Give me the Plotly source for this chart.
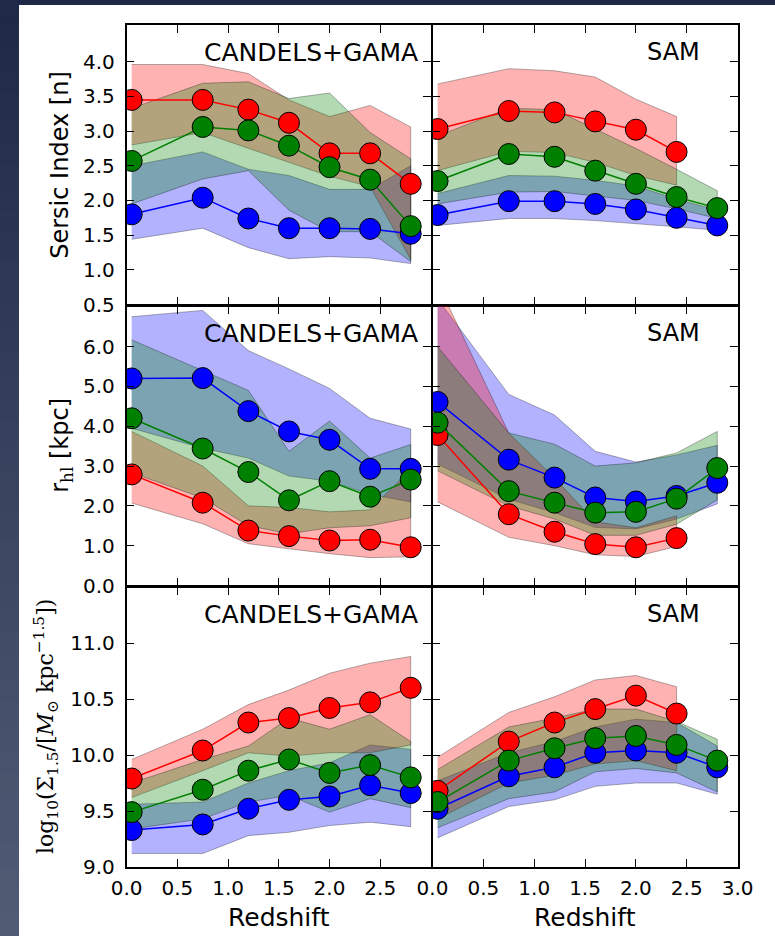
import plotly.graph_objects as go

W, H = 775, 936

# ---------------- data ----------------
z = [0.05, 0.75, 1.2, 1.6, 2.0, 2.4, 2.8]
z_sam_red = [0.05, 0.75, 1.2, 1.6, 2.0, 2.4]

# Sersic index - CANDELS+GAMA
n_obs_red = [3.45, 3.45, 3.31, 3.12, 2.68, 2.68, 2.24]
n_obs_red_hi = [3.96, 3.96, 3.83, 3.45, 3.21, 3.37, 3.06]
n_obs_red_lo = [2.80, 2.98, 2.75, 2.55, 2.35, 2.20, 1.15]
n_obs_green = [2.57, 3.06, 3.01, 2.79, 2.48, 2.30, 1.63]
n_obs_green_hi = [3.33, 3.69, 3.71, 3.47, 3.55, 2.98, 2.60]
n_obs_green_lo = [1.95, 2.31, 2.43, 1.86, 1.55, 1.55, 1.12]
n_obs_blue = [1.80, 2.04, 1.74, 1.60, 1.60, 1.59, 1.52]
n_obs_blue_hi = [2.50, 2.70, 2.45, 2.36, 2.16, 2.16, 2.50]
n_obs_blue_lo = [1.44, 1.60, 1.32, 1.16, 1.19, 1.17, 1.09]

# Sersic index - SAM
n_sam_red = [3.03, 3.29, 3.27, 3.14, 3.02, 2.70]
n_sam_red_hi = [3.68, 3.90, 3.87, 3.78, 3.46, 3.21]
n_sam_red_lo = [2.43, 2.71, 2.69, 2.55, 2.36, 2.22]
n_sam_green = [2.28, 2.67, 2.63, 2.43, 2.24, 2.05, 1.89]
n_sam_green_hi = [2.93, 3.33, 3.31, 3.03, 2.75, 2.45, 2.14]
n_sam_green_lo = [1.95, 2.12, 2.13, 2.07, 2.00, 1.88, 1.74]
n_sam_blue = [1.79, 1.99, 1.99, 1.95, 1.87, 1.75, 1.64]
n_sam_blue_hi = [2.10, 2.36, 2.35, 2.29, 2.21, 2.02, 1.86]
n_sam_blue_lo = [1.64, 1.74, 1.74, 1.71, 1.67, 1.62, 1.57]

# Half-light radius - CANDELS+GAMA
r_obs_red = [2.79, 2.08, 1.38, 1.24, 1.13, 1.15, 0.96]
r_obs_red_hi = [3.87, 3.00, 2.00, 1.96, 1.85, 1.90, 2.91]
r_obs_red_lo = [2.07, 1.55, 1.05, 0.92, 0.80, 0.70, 0.72]
r_obs_green = [4.20, 3.44, 2.85, 2.14, 2.62, 2.23, 2.66]
r_obs_green_hi = [6.17, 5.40, 4.90, 3.37, 4.13, 3.20, 3.54]
r_obs_green_lo = [2.83, 2.20, 1.50, 1.30, 1.45, 1.50, 1.70]
r_obs_blue = [5.20, 5.21, 4.38, 3.87, 3.66, 2.93, 2.93]
r_obs_blue_hi = [6.75, 6.91, 5.90, 5.44, 4.95, 4.20, 3.93]
r_obs_blue_lo = [3.95, 3.45, 3.20, 2.75, 2.62, 2.29, 2.10]

# Half-light radius - SAM
r_sam_red = [3.78, 1.79, 1.35, 1.04, 0.96, 1.19]
r_sam_red_hi = [7.60, 3.83, 2.70, 1.60, 1.45, 1.75]
r_sam_red_lo = [2.10, 1.21, 1.00, 0.77, 0.73, 0.98]
r_sam_green = [4.09, 2.37, 2.08, 1.83, 1.85, 2.18, 2.95]
r_sam_green_hi = [6.00, 3.83, 3.55, 3.00, 3.08, 3.33, 3.87]
r_sam_green_lo = [2.88, 2.00, 1.67, 1.26, 1.26, 1.54, 2.15]
r_sam_blue = [4.61, 3.16, 2.71, 2.21, 2.11, 2.25, 2.58]
r_sam_blue_hi = [7.20, 4.80, 4.28, 3.37, 3.10, 3.28, 3.52]
r_sam_blue_lo = [3.05, 2.17, 1.83, 1.46, 1.42, 1.67, 2.05]

# Sigma_1.5 - CANDELS+GAMA
s_obs_red = [9.79, 10.04, 10.29, 10.33, 10.42, 10.47, 10.60]
s_obs_red_hi = [9.96, 10.23, 10.45, 10.58, 10.73, 10.82, 10.88]
s_obs_red_lo = [9.62, 9.86, 10.02, 9.99, 10.02, 10.02, 10.09]
s_obs_green = [9.49, 9.69, 9.86, 9.96, 9.84, 9.91, 9.80]
s_obs_green_hi = [9.75, 9.96, 10.08, 10.33, 10.23, 10.36, 10.12]
s_obs_green_lo = [9.34, 9.43, 9.58, 9.64, 9.49, 9.61, 9.53]
s_obs_blue = [9.33, 9.38, 9.52, 9.60, 9.63, 9.73, 9.66]
s_obs_blue_hi = [9.56, 9.58, 9.75, 9.86, 9.93, 10.09, 10.05]
s_obs_blue_lo = [9.12, 9.12, 9.28, 9.31, 9.37, 9.40, 9.36]

# Sigma_1.5 - SAM
s_sam_red = [9.68, 10.12, 10.29, 10.41, 10.53, 10.37]
s_sam_red_hi = [9.98, 10.38, 10.52, 10.67, 10.71, 10.61]
s_sam_red_lo = [9.43, 9.75, 9.82, 9.92, 9.95, 9.86]
s_sam_green = [9.58, 9.95, 10.06, 10.15, 10.17, 10.09, 9.95]
s_sam_green_hi = [9.87, 10.25, 10.33, 10.41, 10.41, 10.30, 10.14]
s_sam_green_lo = [9.35, 9.61, 9.67, 9.85, 9.88, 9.84, 9.67]
s_sam_blue = [9.52, 9.81, 9.89, 10.02, 10.04, 10.02, 9.89]
s_sam_blue_hi = [9.77, 10.02, 10.12, 10.25, 10.32, 10.29, 10.08]
s_sam_blue_lo = [9.26, 9.54, 9.60, 9.72, 9.75, 9.75, 9.65]

x_ticks_left = [0.0, 0.5, 1.0, 1.5, 2.0, 2.5]
x_ticks_right = [0.0, 0.5, 1.0, 1.5, 2.0, 2.5, 3.0]
y_ticks_n = [0.5, 1.0, 1.5, 2.0, 2.5, 3.0, 3.5, 4.0]
y_ticks_r = [0.0, 1.0, 2.0, 3.0, 4.0, 5.0, 6.0]
y_ticks_s = [9.0, 9.5, 10.0, 10.5, 11.0]

panel_titles = ["CANDELS+GAMA", "SAM"]
x_title = "Redshift"
y_titles = [
    "Sersic Index [n]",
    "r<sub><span style=\"font-family:'DejaVu Serif'\">hl</span></sub> [kpc]",
    "log<sub>10</sub>(Σ<sub>1.5</sub>/[<i>M</i><sub>⊙</sub> kpc<sup>−1.5</sup>])",
]

# ---------------- layout geometry (pixels) ----------------
LW = 1.5
col_px = [(126.6, 431.0), (431.0 + LW, 737.6)]
row_px = [(25, 304.5), (304.5 + LW, 585.5), (585.5 + LW, 867)]
y_ranges = [[0.5, 4.53], [0.0, 7.02], [9.0, 11.5]]
y_ticks = [y_ticks_n, y_ticks_r, y_ticks_s]

COL = {"red": "#ff0000", "green": "#008000", "blue": "#0000ff"}
FILL = {"red": "rgba(255,0,0,0.3)", "green": "rgba(0,128,0,0.3)", "blue": "rgba(0,0,255,0.3)"}

panels = {
    (0, 0): {"blue": (z, n_obs_blue, n_obs_blue_hi, n_obs_blue_lo),
             "red": (z, n_obs_red, n_obs_red_hi, n_obs_red_lo),
             "green": (z, n_obs_green, n_obs_green_hi, n_obs_green_lo)},
    (0, 1): {"blue": (z, n_sam_blue, n_sam_blue_hi, n_sam_blue_lo),
             "red": (z_sam_red, n_sam_red, n_sam_red_hi, n_sam_red_lo),
             "green": (z, n_sam_green, n_sam_green_hi, n_sam_green_lo)},
    (1, 0): {"blue": (z, r_obs_blue, r_obs_blue_hi, r_obs_blue_lo),
             "red": (z, r_obs_red, r_obs_red_hi, r_obs_red_lo),
             "green": (z, r_obs_green, r_obs_green_hi, r_obs_green_lo)},
    (1, 1): {"blue": (z, r_sam_blue, r_sam_blue_hi, r_sam_blue_lo),
             "red": (z_sam_red, r_sam_red, r_sam_red_hi, r_sam_red_lo),
             "green": (z, r_sam_green, r_sam_green_hi, r_sam_green_lo)},
    (2, 0): {"blue": (z, s_obs_blue, s_obs_blue_hi, s_obs_blue_lo),
             "red": (z, s_obs_red, s_obs_red_hi, s_obs_red_lo),
             "green": (z, s_obs_green, s_obs_green_hi, s_obs_green_lo)},
    (2, 1): {"blue": (z, s_sam_blue, s_sam_blue_hi, s_sam_blue_lo),
             "red": (z_sam_red, s_sam_red, s_sam_red_hi, s_sam_red_lo),
             "green": (z, s_sam_green, s_sam_green_hi, s_sam_green_lo)},
}
order = ["blue", "red", "green"]

fig = go.Figure()
layout = {}
font_tick = dict(family="DejaVu Sans", size=20, color="black")

for (r, c), data in panels.items():
    idx = r * 2 + c + 1
    xs = "" if idx == 1 else str(idx)
    xref, yref = "x" + xs, "y" + xs
    for key in order:
        xx, med, hi, lo = data[key]
        fig.add_trace(go.Scatter(
            x=list(xx) + list(xx)[::-1], y=list(hi) + list(lo)[::-1],
            fill="toself", fillcolor=FILL[key], mode="lines",
            line=dict(color="rgba(0,0,0,0.3)", width=1),
            hoverinfo="skip", showlegend=False, xaxis=xref, yaxis=yref))
    for key in order:
        xx, med, hi, lo = data[key]
        fig.add_trace(go.Scatter(
            x=xx, y=med, mode="lines+markers",
            line=dict(color=COL[key], width=1.5),
            marker=dict(size=21, color=COL[key], line=dict(color="black", width=1)),
            showlegend=False, xaxis=xref, yaxis=yref))

    x0, x1 = col_px[c]
    y0, y1 = row_px[r]
    tv = x_ticks_left if c == 0 else x_ticks_right
    layout["xaxis" + xs] = dict(
        domain=[x0 / W, x1 / W], range=[0, 3], anchor=yref, automargin=False,
        tickvals=tv, ticktext=["%.1f" % v for v in tv],
        showticklabels=(r == 2), ticks="inside", ticklen=8, tickwidth=1,
        tickcolor="black", mirror="ticks", showline=True, linecolor="black",
        linewidth=LW, showgrid=False, zeroline=False, tickfont=font_tick,
        ticklabelstandoff=2)
    layout["yaxis" + xs] = dict(
        domain=[1 - y1 / H, 1 - y0 / H], range=y_ranges[r], anchor=xref, automargin=False,
        tickvals=y_ticks[r], ticktext=["%.1f" % v for v in y_ticks[r]],
        showticklabels=(c == 0), ticks="inside", ticklen=8, tickwidth=1,
        tickcolor="black", mirror="ticks", showline=True, linecolor="black",
        linewidth=LW, showgrid=False, zeroline=False, tickfont=font_tick,
        ticklabelstandoff=6)

annotations = []
title_cx = [311, 673]
title_size = [25, 24]
for r in range(3):
    for c in range(2):
        annotations.append(dict(
            text=panel_titles[c], xref="paper", yref="paper",
            x=title_cx[c] / W, y=1 - (row_px[r][0] + 27) / H,
            xanchor="center", yanchor="middle", showarrow=False,
            font=dict(family="DejaVu Sans", size=title_size[c], color="black")))
for c in range(2):
    annotations.append(dict(
        text=x_title, xref="paper", yref="paper",
        x=(col_px[c][0] + col_px[c][1]) / 2 / W, y=1 - 917 / H,
        xanchor="center", yanchor="middle", showarrow=False,
        font=dict(family="DejaVu Sans", size=25, color="black")))
ytitle_x = [60, 62, 46]
ytitle_font = [dict(family="DejaVu Sans", size=24, color="black"),
               dict(family="DejaVu Sans", size=24, color="black"),
               dict(family="DejaVu Serif", size=22, color="black")]
for r in range(3):
    annotations.append(dict(
        text=y_titles[r], xref="paper", yref="paper",
        x=ytitle_x[r] / W, y=1 - (row_px[r][0] + row_px[r][1]) / 2 / H,
        xanchor="center", yanchor="middle", textangle=-90, showarrow=False,
        font=ytitle_font[r]))

# background: dark slide frame (top band + gradient strip on the left)
shapes = [dict(type="rect", xref="paper", yref="paper", x0=0, x1=1,
               y0=1 - 5 / H, y1=1, fillcolor="#1f2846", line=dict(width=0),
               layer="below")]
top_rgb = (31, 40, 70)
bot_rgb = (82, 92, 117)
nband = 40
for i in range(nband):
    t = (i + 0.5) / nband
    rgb = tuple(int(round(top_rgb[k] + (bot_rgb[k] - top_rgb[k]) * t)) for k in range(3))
    shapes.append(dict(type="rect", xref="paper", yref="paper",
                       x0=0, x1=19 / W, y0=1 - (i + 1) / nband - 0.001, y1=1 - i / nband,
                       fillcolor="rgb(%d,%d,%d)" % rgb, line=dict(width=0), layer="below"))

fig.update_layout(
    width=W, height=H,
    margin=dict(l=0, r=0, t=0, b=0, pad=0, autoexpand=False),
    paper_bgcolor="white", plot_bgcolor="white",
    annotations=annotations, shapes=shapes, showlegend=False, **layout)

fig.write_html("out.html")
